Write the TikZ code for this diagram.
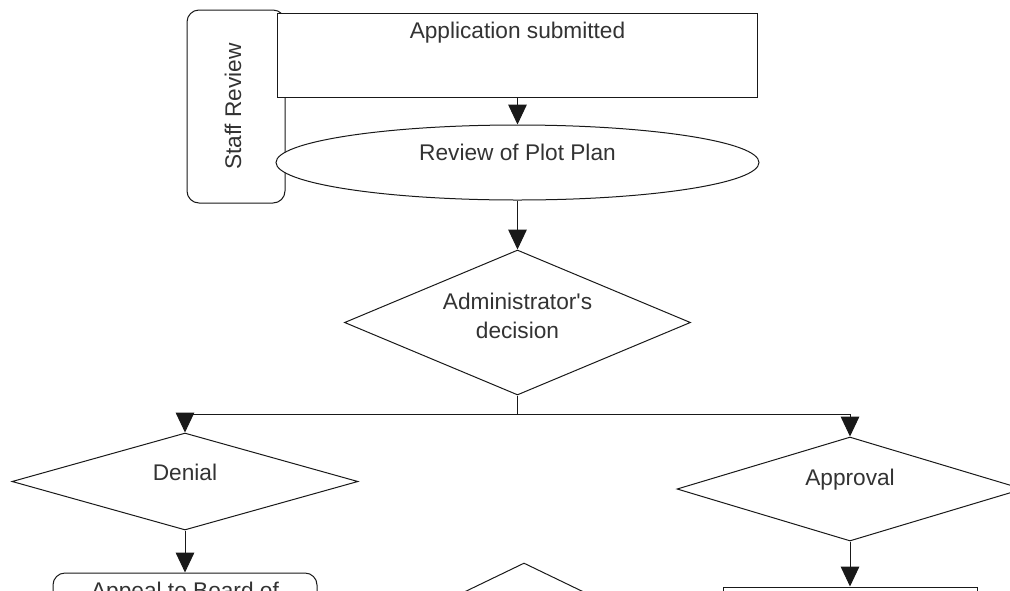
\documentclass[tikz,border=0pt]{standalone}
\usepackage{fontspec}
\setmainfont{Liberation Sans}
\usepackage{tikz}
\usetikzlibrary{shapes.geometric,arrows.meta}

\tikzset{
    base/.style={draw=black!90, fill=white, line width=0.75pt, inner sep=0pt, text=black!80},
    procbox/.style={base, rectangle},
    roundbox/.style={base, rectangle, rounded corners=9pt},
    oval/.style={base, ellipse},
    decision/.style={base, diamond, shape aspect=2.4, minimum width=259.5pt},
    flow/.style={draw=black!90, line width=0.75pt, -{Triangle[width=14pt,length=15pt]}},
}

\begin{document}
\begin{tikzpicture}[x=0.75pt, y=-0.75pt, font=\fontsize{17}{21.75}\selectfont]
        % Page frame (pixel units, y pointing down):
        \useasboundingbox (0,0) rectangle (1010,590);
        \clip (0,0) rectangle (1010,590);

        % Lane label:
        % Drawn first, so the boxes of the lane cover its right edge
        \node [roundbox, rotate=90, minimum width=144.75pt, minimum height=73.5pt, text depth=4.5pt] (staff) at (236,106.5) {Staff Review};

        % Staff steps:
        \node [procbox, minimum width=360pt, minimum height=63pt, text depth=37.5pt] (submitted) at (517.5,55) {Application submitted};
        \node [oval, minimum width=362.25pt, minimum height=56.25pt, text depth=15.75pt] (review) at (517.5,162.5) {Review of Plot Plan};

        % Decisions:
        \node [decision, minimum height=108.75pt, align=center, text depth=10.5pt] (admin) at (517.5,322.5) {Administrator\textquotesingle s\\decision};
        \node [decision, shape aspect=3.5, minimum height=72.75pt, text depth=13.5pt] (denial) at (185,481.5) {Denial};
        \node [decision, shape aspect=3.3, minimum height=78pt, text depth=17.25pt] (approval) at (850,489) {Approval};
        \node [decision, minimum height=125.25pt] (middle) at (524,646.5) {};

        % Next steps (cut by the page border):
        \node [roundbox, minimum width=198pt, minimum height=45pt, text depth=19.5pt] (appeal) at (185,603) {Appeal to Board of};
        \node [procbox, minimum width=190.5pt, minimum height=45pt] (permit) at (850,617) {};

        % Connectors:
        \coordinate (split) at (517.5,414.5);
        \draw [flow] (submitted) -- (review);
        \draw [flow] (review) -- (admin);
        \draw [flow] (admin.south) -- (split) -| (denial.north);
        \draw [flow] (split) -| (approval.north);
        \draw [flow] (denial) -- (appeal);
        \draw [flow] (approval) -- (permit);
\end{tikzpicture}
\end{document}
